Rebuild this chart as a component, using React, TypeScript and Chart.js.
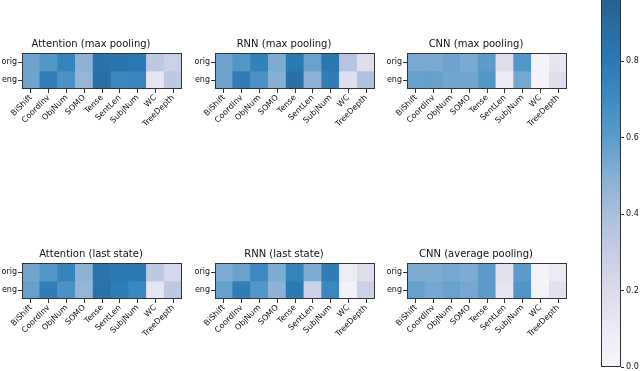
import React, { useEffect, useRef } from 'react';
import { Chart, registerables } from 'chart.js';
Chart.register(...registerables);

Chart.defaults.font.family = "'DejaVu Sans', sans-serif";
Chart.defaults.color = '#222';

const features = ['BiShift', 'CoordInv', 'ObjNum', 'SOMO', 'Tense', 'SentLen', 'SubjNum', 'WC', 'TreeDepth'];
const rowLabels = ['orig', 'eng'];

const attnMaxOrig = [0.56, 0.63, 0.75, 0.48, 0.85, 0.83, 0.81, 0.33, 0.28];
const attnMaxEng = [0.56, 0.77, 0.66, 0.46, 0.86, 0.72, 0.73, 0.13, 0.33];
const rnnMaxOrig = [0.56, 0.63, 0.76, 0.52, 0.8, 0.57, 0.82, 0.36, 0.18];
const rnnMaxEng = [0.56, 0.78, 0.66, 0.5, 0.86, 0.48, 0.78, 0.18, 0.38];
const cnnMaxOrig = [0.53, 0.53, 0.56, 0.53, 0.6, 0.18, 0.63, 0.02, 0.13];
const cnnMaxEng = [0.58, 0.58, 0.55, 0.55, 0.63, 0.1, 0.54, 0.02, 0.18];
const attnLastOrig = [0.55, 0.63, 0.75, 0.48, 0.83, 0.8, 0.8, 0.33, 0.23];
const attnLastEng = [0.58, 0.78, 0.66, 0.46, 0.85, 0.78, 0.72, 0.13, 0.33];
const rnnLastOrig = [0.52, 0.57, 0.71, 0.52, 0.75, 0.52, 0.78, 0.08, 0.18];
const rnnLastEng = [0.58, 0.78, 0.63, 0.48, 0.8, 0.28, 0.72, 0.04, 0.28];
const cnnAvgOrig = [0.52, 0.52, 0.54, 0.52, 0.6, 0.16, 0.6, 0.02, 0.1];
const cnnAvgEng = [0.58, 0.54, 0.57, 0.54, 0.6, 0.13, 0.64, 0.03, 0.16];

const colorbarTicks = [0, 0.2, 0.4, 0.6, 0.8, 1.0];

const cmapStops: [number, string][] = [
  [0.0, '#f7f6fa'],
  [0.1, '#ebe9f3'],
  [0.2, '#dbdbec'],
  [0.3, '#c6cde4'],
  [0.4, '#a9bfdc'],
  [0.5, '#87afd4'],
  [0.6, '#5c9bca'],
  [0.7, '#3e8bc2'],
  [0.8, '#2c7ab4'],
  [0.9, '#296aa0'],
  [1.0, '#245a85'],
];

function hexToRgb(h: string) {
  return [parseInt(h.slice(1, 3), 16), parseInt(h.slice(3, 5), 16), parseInt(h.slice(5, 7), 16)];
}

function cmap(v: number) {
  const t = Math.max(0, Math.min(1, v));
  for (let i = 0; i < cmapStops.length - 1; i++) {
    const [a, ca] = cmapStops[i];
    const [b, cb] = cmapStops[i + 1];
    if (t >= a && t <= b) {
      const f = (t - a) / (b - a);
      const x = hexToRgb(ca);
      const y = hexToRgb(cb);
      const r = x.map((c, k) => Math.round(c + (y[k] - c) * f));
      return `rgb(${r[0]},${r[1]},${r[2]})`;
    }
  }
  return cmapStops[cmapStops.length - 1][1];
}

const framePlugin = {
  id: 'frame',
  afterDatasetsDraw(chart: any) {
    const { ctx, chartArea: a } = chart;
    ctx.save();
    ctx.strokeStyle = '#333';
    ctx.lineWidth = 1;
    ctx.strokeRect(Math.round(a.left) + 0.5, Math.round(a.top) + 0.5, Math.round(a.right - a.left) - 1, Math.round(a.bottom - a.top) - 1);
    ctx.restore();
  },
};

const Y_W = 22;
const TITLE_H = 15;
const PLOT_W = 160;
const PLOT_H = 36;
const X_H = 52;
const RIGHT_PAD = 4;

function Heatmap(props: { title: string; orig: number[]; eng: number[]; left: number; top: number }) {
  const ref = useRef<HTMLCanvasElement>(null);
  const { title, orig, eng, left, top } = props;
  const W = Y_W + PLOT_W + RIGHT_PAD;
  const H = TITLE_H + PLOT_H + X_H;
  useEffect(() => {
    const mk = (vals: number[], lo: number) =>
      features.map((f, i) => ({ x: f, y: [lo, lo + 1], v: vals[i] }));
    const chart = new Chart(ref.current as HTMLCanvasElement, {
      type: 'bar',
      data: {
        labels: features,
        datasets: [
          {
            label: rowLabels[0],
            data: mk(orig, 1) as any,
            backgroundColor: (c: any) => cmap(c.raw ? c.raw.v : 0),
            borderWidth: 0,
            barPercentage: 1,
            categoryPercentage: 1,
            grouped: false,
          } as any,
          {
            label: rowLabels[1],
            data: mk(eng, 0) as any,
            backgroundColor: (c: any) => cmap(c.raw ? c.raw.v : 0),
            borderWidth: 0,
            barPercentage: 1,
            categoryPercentage: 1,
            grouped: false,
          } as any,
        ],
      },
      options: {
        responsive: false,
        animation: false,
        layout: { padding: { left: 0, right: RIGHT_PAD, top: 0, bottom: 0 } },
        plugins: {
          legend: { display: false },
          tooltip: { enabled: false },
          title: {
            display: true,
            text: title,
            font: { size: 10, weight: 'normal' as any },
            color: '#111',
            padding: { top: 0, bottom: 3 },
          },
        },
        scales: {
          x: {
            type: 'category',
            grid: { offset: false, drawOnChartArea: false, drawTicks: true, tickLength: 4, color: '#333' },
            border: { display: false },
            ticks: { minRotation: 45, maxRotation: 45, font: { size: 8 }, padding: 0, autoSkip: false, color: '#111' },
            afterFit: (s: any) => {
              s.height = X_H;
            },
          },
          y: {
            type: 'linear',
            min: 0,
            max: 2,
            grid: { drawOnChartArea: false, drawTicks: true, tickLength: 4, color: '#333' },
            border: { display: false },
            afterBuildTicks: (s: any) => {
              s.ticks = [{ value: 0.5 }, { value: 1.5 }];
            },
            ticks: {
              font: { size: 8 },
              padding: 1,
              color: '#111',
              callback: (v: any) => (v > 1 ? rowLabels[0] : rowLabels[1]),
            },
            afterFit: (s: any) => {
              s.width = Y_W;
            },
          },
        },
      } as any,
      plugins: [framePlugin],
    });
    return () => chart.destroy();
  }, []);
  return (
    <canvas
      ref={ref}
      width={W}
      height={H}
      style={{ position: 'absolute', left: left - Y_W, top: top - TITLE_H, width: W, height: H }}
    />
  );
}

const CB_TOP = -16;
const CB_BOTTOM = 368;
const CB_LEFT = 601;
const CB_W = 20;
const CB_AXIS_W = 19;
const CB_PAD_T = 6;
const CB_PAD_B = 6;

function Colorbar() {
  const ref = useRef<HTMLCanvasElement>(null);
  const W = CB_W + CB_AXIS_W;
  const H = CB_BOTTOM - CB_TOP + CB_PAD_T + CB_PAD_B;
  useEffect(() => {
    const chart = new Chart(ref.current as HTMLCanvasElement, {
      type: 'bar',
      data: {
        labels: [''],
        datasets: [
          {
            data: [[0, 1]] as any,
            borderWidth: 0,
            barPercentage: 1,
            categoryPercentage: 1,
            backgroundColor: (c: any) => {
              const ch = c.chart;
              if (!ch.chartArea || !ch.scales.y) return 'transparent';
              const ys = ch.scales.y;
              const g = ch.ctx.createLinearGradient(0, ys.getPixelForValue(0), 0, ys.getPixelForValue(1));
              cmapStops.forEach(([p, col]) => g.addColorStop(p, col));
              return g;
            },
          } as any,
        ],
      },
      options: {
        responsive: false,
        animation: false,
        layout: { padding: { left: 0, right: 0, top: CB_PAD_T, bottom: CB_PAD_B } },
        plugins: { legend: { display: false }, tooltip: { enabled: false } },
        scales: {
          x: { display: false },
          y: {
            type: 'linear',
            position: 'right',
            min: 0,
            max: 1,
            grid: { drawOnChartArea: false, drawTicks: true, tickLength: 3, color: '#333' },
            border: { display: false },
            afterBuildTicks: (s: any) => {
              s.ticks = colorbarTicks.map((v) => ({ value: v }));
            },
            ticks: {
              font: { size: 8 },
              padding: 2,
              color: '#111',
              callback: (v: any) => Number(v).toFixed(1),
            },
            afterFit: (s: any) => {
              s.width = CB_AXIS_W;
            },
          },
        },
      } as any,
      plugins: [framePlugin],
    });
    return () => chart.destroy();
  }, []);
  return (
    <canvas
      ref={ref}
      width={W}
      height={H}
      style={{ position: 'absolute', left: CB_LEFT, top: CB_TOP - CB_PAD_T, width: W, height: H }}
    />
  );
}

export default function App() {
  return (
    <div
      style={{
        position: 'fixed',
        left: 0,
        top: 0,
        width: 640,
        height: 371,
        overflow: 'hidden',
        background: '#fff',
      }}
    >
      <Heatmap title="Attention (max pooling)" orig={attnMaxOrig} eng={attnMaxEng} left={22} top={53} />
      <Heatmap title="RNN (max pooling)" orig={rnnMaxOrig} eng={rnnMaxEng} left={215} top={53} />
      <Heatmap title="CNN (max pooling)" orig={cnnMaxOrig} eng={cnnMaxEng} left={407} top={53} />
      <Heatmap title="Attention (last state)" orig={attnLastOrig} eng={attnLastEng} left={22} top={263} />
      <Heatmap title="RNN (last state)" orig={rnnLastOrig} eng={rnnLastEng} left={215} top={263} />
      <Heatmap title="CNN (average pooling)" orig={cnnAvgOrig} eng={cnnAvgEng} left={407} top={263} />
      <Colorbar />
    </div>
  );
}
